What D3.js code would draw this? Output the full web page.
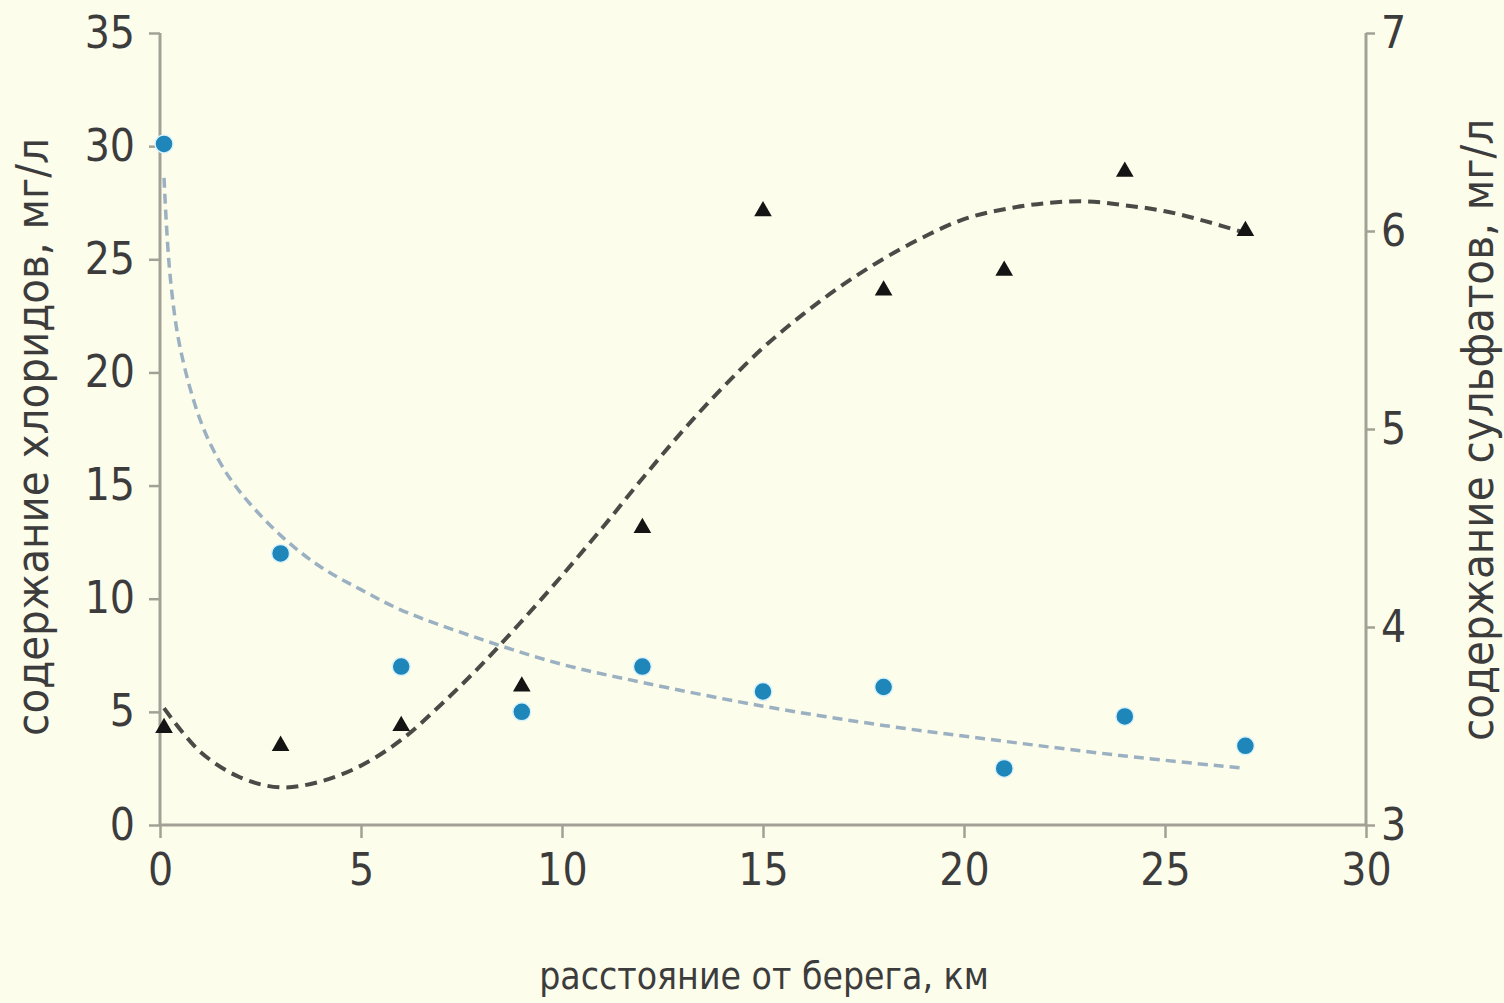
<!DOCTYPE html>
<html>
<head>
<meta charset="utf-8">
<script src="https://cdn.jsdelivr.net/npm/d3@7"></script>
<style>
  body { margin: 0; background: #fdfdec; }
  text { font-family: "Liberation Sans Narrow", "DejaVu Sans Condensed", sans-serif; fill: #3c3c3c; }
</style>
</head>
<body>
<div id="chart-area"></div>
<script>
// distance from shore, km
var distances = [0.1, 3, 6, 9, 12, 15, 18, 21, 24, 27];
// chlorides, mg/l (left axis)
var chlorides = [30.1, 12.0, 7.0, 5.0, 7.0, 5.9, 6.1, 2.5, 4.8, 3.5];
// sulfates, mg/l (right axis)
var sulfates = [3.49, 3.40, 3.50, 3.70, 4.50, 6.10, 5.70, 5.80, 6.30, 6.00];

// trend line of chlorides
var chlTrendX = [0.1, 0.25, 0.5, 1, 1.5, 2, 3, 4, 5, 6, 8, 10, 12, 15, 18, 21, 24, 27];
var chlTrendY = [28.6, 24.3, 21.1, 17.9, 16.0, 14.7, 12.8, 11.4, 10.4, 9.5, 8.2, 7.1, 6.3, 5.25, 4.4, 3.7, 3.05, 2.5];

// trend line of sulfates
var sulTrendX = [0.1, 1, 2, 3, 4, 5, 6, 7, 8, 9, 10, 11, 12, 13, 14, 15, 16, 17, 18, 19, 20, 21, 22, 23, 24, 25, 26, 27];
var sulTrendY = [3.59, 3.37, 3.24, 3.19, 3.22, 3.30, 3.43, 3.61, 3.81, 4.03, 4.26, 4.50, 4.75, 4.99, 5.21, 5.41, 5.58, 5.73, 5.86, 5.97, 6.06, 6.11, 6.14, 6.15, 6.13, 6.10, 6.05, 5.99];

var xTicks = [0, 5, 10, 15, 20, 25, 30];
var leftTicks = [0, 5, 10, 15, 20, 25, 30, 35];
var rightTicks = [3, 4, 5, 6, 7];

var margin = { left: 160, right: 138, top: 33, bottom: 178 };
var width = 1504 - margin.left - margin.right,
    height = 1003 - margin.top - margin.bottom;

var svg = d3.select("#chart-area").append("svg")
    .attr("width", 1504)
    .attr("height", 1003)
    .style("display", "block");

svg.append("rect").attr("width", 1504).attr("height", 1003).attr("fill", "#fdfdec");

var g = svg.append("g").attr("transform", "translate(" + margin.left + ", " + margin.top + ")");

var x = d3.scaleLinear().domain([0, 30]).range([0, width]);
var yL = d3.scaleLinear().domain([0, 35]).range([height, 0]);
var yR = d3.scaleLinear().domain([3, 7]).range([height, 0]);

var axisColor = "#a3a196";

// X axis
var xAxisGroup = g.append("g")
    .attr("transform", "translate(0, " + height + ")")
    .call(d3.axisBottom(x).tickValues(xTicks).tickFormat(d3.format("d")).tickSize(13).tickPadding(14));

// Left axis
var leftAxisGroup = g.append("g")
    .call(d3.axisLeft(yL).tickValues(leftTicks).tickFormat(d3.format("d")).tickSize(11).tickPadding(14));

// Right axis
var rightAxisGroup = g.append("g")
    .attr("transform", "translate(" + width + ", 0)")
    .call(d3.axisRight(yR).tickValues(rightTicks).tickFormat(d3.format("d")).tickSize(9).tickPadding(6));

[xAxisGroup, leftAxisGroup, rightAxisGroup].forEach(function(ax) {
    ax.select(".domain").attr("stroke", axisColor).attr("stroke-width", 3);
    ax.selectAll(".tick line").attr("stroke", axisColor).attr("stroke-width", 2.5);
    ax.selectAll(".tick text")
        .attr("font-size", "44px")
        .style("fill", "#3c3c3c");
});
xAxisGroup.selectAll(".tick text").attr("dy", "0.75em");
// remove outer tick stubs of domain paths
xAxisGroup.select(".domain").attr("d", "M0,0H" + width);
leftAxisGroup.select(".domain").attr("d", "M0,0V" + height);
rightAxisGroup.select(".domain").attr("d", "M0,0V" + height);

// Labels
g.append("text")
    .attr("x", width / 2 + 1)
    .attr("y", height + 164)
    .attr("font-size", "37px")
    .attr("text-anchor", "middle")
    .text("расстояние от берега, км");

g.append("text")
    .attr("x", -(height / 2) - 8)
    .attr("y", -112)
    .attr("font-size", "45px")
    .attr("text-anchor", "middle")
    .attr("transform", "rotate(-90)")
    .text("содержание хлоридов, мг/л");

g.append("text")
    .attr("x", -(height / 2) - 1)
    .attr("y", width + 127)
    .attr("font-size", "45px")
    .attr("text-anchor", "middle")
    .attr("transform", "rotate(-90)")
    .text("содержание сульфатов, мг/л");

// Trend lines
var chlTrend = chlTrendX.map(function(d, i) { return { x: d, y: chlTrendY[i] }; });
var sulTrend = sulTrendX.map(function(d, i) { return { x: d, y: sulTrendY[i] }; });

g.append("path")
    .datum(chlTrend)
    .attr("fill", "none")
    .attr("stroke", "#9bb1c2")
    .attr("stroke-width", 3.5)
    .attr("stroke-dasharray", "10,6")
    .attr("d", d3.line().x(function(d) { return x(d.x); }).y(function(d) { return yL(d.y); }).curve(d3.curveCatmullRom));

g.append("path")
    .datum(sulTrend)
    .attr("fill", "none")
    .attr("stroke", "#4a4a46")
    .attr("stroke-width", 4)
    .attr("stroke-dasharray", "12,7")
    .attr("d", d3.line().x(function(d) { return x(d.x); }).y(function(d) { return yR(d.y); }).curve(d3.curveCatmullRom));

// Points
var sulData = distances.map(function(d, i) { return { x: d, y: sulfates[i] }; });
var chlData = distances.map(function(d, i) { return { x: d, y: chlorides[i] }; });

g.selectAll("path.tri")
    .data(sulData)
    .enter().append("path")
    .attr("class", "tri")
    .attr("transform", function(d) { return "translate(" + x(d.x) + "," + yR(d.y) + ")"; })
    .attr("d", d3.symbol().type(d3.symbolTriangle).size(135))
    .attr("fill", "#141414");

g.selectAll("circle.chl")
    .data(chlData)
    .enter().append("circle")
    .attr("class", "chl")
    .attr("cx", function(d) { return x(d.x); })
    .attr("cy", function(d) { return yL(d.y); })
    .attr("r", 9)
    .attr("fill", "#1f86b9")
    .attr("stroke", "#d8f2fb")
    .attr("stroke-width", 1.5);
</script>
</body>
</html>
